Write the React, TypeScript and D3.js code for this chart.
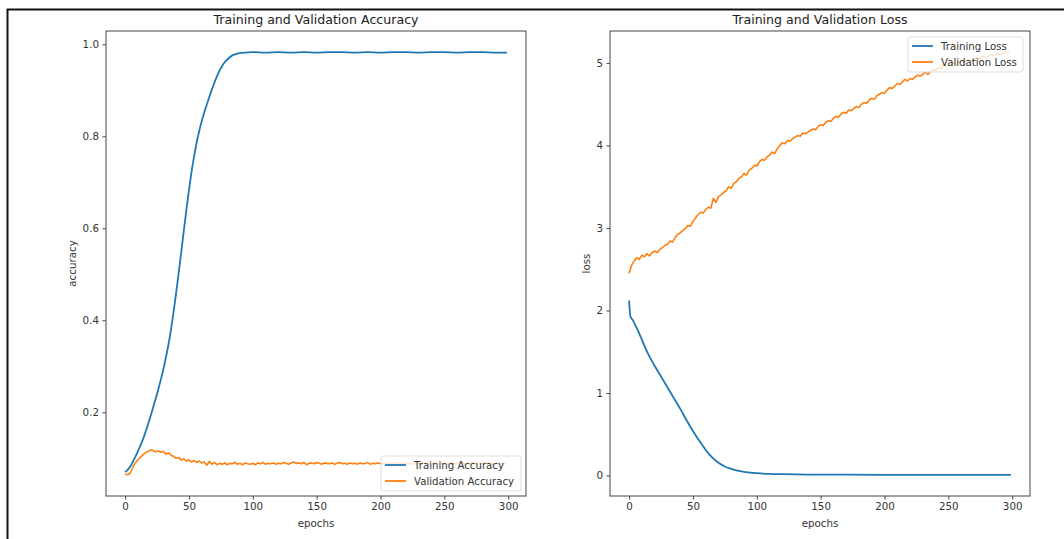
import React, { useEffect, useRef } from "react";
import * as d3 from "d3";

// ---- data ----
const xTicks = [0, 50, 100, 150, 200, 250, 300];
const accTicks = [0.2, 0.4, 0.6, 0.8, 1.0];
const lossTicks = [0, 1, 2, 3, 4, 5];

// validation series logged every 2 epochs (0, 2, ..., 298)
const valAccuracy = [
  0.066, 0.064, 0.068, 0.08, 0.09, 0.097, 0.102, 0.108, 0.112, 0.115,
  0.118, 0.117, 0.114, 0.116, 0.113, 0.115, 0.109, 0.112, 0.107, 0.104,
  0.1, 0.102, 0.096, 0.099, 0.094, 0.097, 0.092, 0.095, 0.091, 0.094,
  0.09, 0.092, 0.085, 0.093, 0.087, 0.091, 0.086, 0.089, 0.087, 0.09,
  0.086, 0.089, 0.088, 0.091, 0.087, 0.089, 0.086, 0.09, 0.088, 0.087,
  0.089, 0.086, 0.09, 0.088, 0.091, 0.087, 0.089, 0.088, 0.09, 0.087,
  0.089, 0.088, 0.091, 0.089, 0.087, 0.09, 0.092, 0.089, 0.09, 0.088,
  0.091, 0.086, 0.089, 0.09, 0.088, 0.091, 0.089, 0.087, 0.09, 0.089,
  0.088, 0.09, 0.087, 0.089, 0.091, 0.088, 0.089, 0.087, 0.09, 0.088,
  0.089, 0.087, 0.09, 0.088, 0.089, 0.091, 0.087, 0.089, 0.088, 0.09,
  0.088, 0.089, 0.087, 0.09, 0.088, 0.089, 0.091, 0.088, 0.089, 0.087,
  0.09, 0.088, 0.089, 0.087, 0.09, 0.089, 0.088, 0.091, 0.088, 0.089,
  0.087, 0.09, 0.088, 0.089, 0.09, 0.088, 0.087, 0.089, 0.09, 0.088,
  0.089, 0.088, 0.09, 0.087, 0.089, 0.088, 0.09, 0.089, 0.087, 0.089,
  0.088, 0.09, 0.089, 0.087, 0.089, 0.088, 0.09, 0.088, 0.089, 0.088,
];

const valLoss = [
  2.45, 2.55, 2.6, 2.64, 2.62, 2.67, 2.65, 2.69, 2.66, 2.7,
  2.72, 2.7, 2.74, 2.76, 2.79, 2.8, 2.84, 2.83, 2.88, 2.92,
  2.94, 2.97, 2.99, 3.03, 3.02, 3.08, 3.12, 3.16, 3.19, 3.18,
  3.22, 3.25, 3.24, 3.36, 3.31, 3.38, 3.4, 3.43, 3.45, 3.5,
  3.48, 3.54, 3.56, 3.6, 3.62, 3.66, 3.64, 3.7, 3.72, 3.76,
  3.75, 3.8, 3.83, 3.82, 3.86, 3.88, 3.92, 3.9, 3.96, 4.0,
  4.03, 4.02, 4.06, 4.05, 4.08, 4.1, 4.12, 4.11, 4.15, 4.14,
  4.16, 4.18, 4.2, 4.19, 4.23, 4.25, 4.24, 4.28, 4.3, 4.29,
  4.33, 4.35, 4.34, 4.38, 4.4, 4.39, 4.43, 4.42, 4.45, 4.47,
  4.46, 4.5, 4.52, 4.51, 4.55, 4.57, 4.56, 4.6, 4.62, 4.64,
  4.63, 4.67, 4.7, 4.69, 4.72, 4.75, 4.74, 4.77, 4.8, 4.78,
  4.81, 4.8, 4.83, 4.85, 4.84, 4.86, 4.89, 4.86, 4.9, 4.92,
  4.91, 4.94, 4.93, 4.96, 4.97, 4.95, 4.99, 5.0, 4.98, 5.01,
  5.02, 5.0, 5.03, 5.04, 5.02, 5.05, 5.06, 5.04, 5.07, 5.08,
  5.06, 5.09, 5.1, 5.08, 5.11, 5.1, 5.12, 5.11, 5.13, 5.12,
];

// training series: [epoch, value]
const trainAccuracy: [number, number][] = [
  [0, 0.07], [2, 0.075], [4, 0.082], [6, 0.092], [8, 0.103], [10, 0.115],
  [12, 0.128], [14, 0.141], [16, 0.157], [18, 0.174], [20, 0.192], [22, 0.211],
  [24, 0.23], [26, 0.25], [28, 0.271], [30, 0.294], [32, 0.32], [34, 0.348],
  [36, 0.381], [38, 0.419], [40, 0.46], [42, 0.504], [44, 0.549], [46, 0.595],
  [48, 0.64], [50, 0.683], [52, 0.722], [54, 0.756], [56, 0.786], [58, 0.811],
  [60, 0.833], [62, 0.852], [64, 0.869], [66, 0.886], [68, 0.902], [70, 0.917],
  [72, 0.931], [74, 0.943], [76, 0.953], [78, 0.961], [80, 0.967], [82, 0.972],
  [84, 0.976], [86, 0.978], [88, 0.98], [90, 0.981], [95, 0.982], [100, 0.983],
  [110, 0.982], [120, 0.983], [130, 0.982], [140, 0.983], [150, 0.982],
  [160, 0.983], [170, 0.983], [180, 0.982], [190, 0.983], [200, 0.982],
  [210, 0.983], [220, 0.983], [230, 0.982], [240, 0.983], [250, 0.983],
  [260, 0.982], [270, 0.983], [280, 0.983], [290, 0.982], [299, 0.982],
];

const trainLoss: [number, number][] = [
  [0, 2.12], [1, 1.93], [3, 1.88], [5, 1.82], [8, 1.72], [11, 1.61], [15, 1.47],
  [20, 1.33], [25, 1.2], [30, 1.07], [35, 0.94], [40, 0.81], [45, 0.67],
  [50, 0.54], [55, 0.42], [60, 0.31], [65, 0.22], [70, 0.155], [75, 0.11],
  [80, 0.08], [85, 0.058], [90, 0.044], [95, 0.034], [100, 0.028], [110, 0.02],
  [120, 0.016], [140, 0.012], [170, 0.01], [200, 0.009], [250, 0.008], [299, 0.008],
];

const BLUE = "#1f77b4";
const ORANGE = "#ff7f0e";
const FONT = "DejaVu Sans, sans-serif";

const valEpochs = d3.range(0, 300, 2);

function drawPanel(svg: any, opts: any) {
  const { x0, x1, y0, y1, title, ylabel, ticks, tickFmt, train, val, names, legendPos } = opts;
  const g = svg.append("g");

  // matplotlib-like 5% margins
  const x = d3.scaleLinear().domain([-0.05 * 299, 299 * 1.05]).range([x0, x1]);
  const allY = train.map((d: any) => d[1]).concat(val);
  const lo = d3.min(allY) as number, hi = d3.max(allY) as number;
  const pad = (hi - lo) * 0.05;
  const y = d3.scaleLinear().domain([lo - pad, hi + pad]).range([y1, y0]);

  g.append("path")
    .datum(train)
    .attr("d", d3.line<[number, number]>().x(d => x(d[0])).y(d => y(d[1])).curve(d3.curveMonotoneX))
    .attr("fill", "none").attr("stroke", BLUE).attr("stroke-width", 1.8);

  g.append("path")
    .datum(val.map((v: number, i: number) => [valEpochs[i], v]))
    .attr("d", d3.line<[number, number]>().x(d => x(d[0])).y(d => y(d[1])))
    .attr("fill", "none").attr("stroke", ORANGE).attr("stroke-width", 1.6)
    .attr("stroke-linejoin", "round");

  // axes
  const xa = g.append("g").attr("transform", `translate(0,${y1})`)
    .call(d3.axisBottom(x).tickValues(xTicks).tickSize(3.5).tickPadding(3.5).tickFormat(d3.format("d")));
  const ya = g.append("g").attr("transform", `translate(${x0},0)`)
    .call(d3.axisLeft(y).tickValues(ticks).tickSize(3.5).tickPadding(3.5).tickFormat(d3.format(tickFmt)));
  [xa, ya].forEach(a => {
    a.select(".domain").remove();
    a.selectAll("line").attr("stroke", "#444");
    a.selectAll("text").attr("font-family", FONT).attr("font-size", 10.3).attr("fill", "#333");
  });

  g.append("rect").attr("x", x0).attr("y", y0).attr("width", x1 - x0).attr("height", y1 - y0)
    .attr("fill", "none").attr("stroke", "#444").attr("stroke-width", 1);

  g.append("text").attr("x", (x0 + x1) / 2).attr("y", y0 - 7).attr("text-anchor", "middle")
    .attr("font-family", FONT).attr("font-size", 12.6).attr("fill", "#222").text(title);
  g.append("text").attr("x", (x0 + x1) / 2).attr("y", 527).attr("text-anchor", "middle")
    .attr("font-family", FONT).attr("font-size", 10.3).attr("fill", "#333").text("epochs");
  g.append("text").attr("transform", `translate(${opts.ylabelX},${(y0 + y1) / 2}) rotate(-90)`)
    .attr("text-anchor", "middle").attr("font-family", FONT).attr("font-size", 10.3).attr("fill", "#333")
    .text(ylabel);

  // legend
  const [lx, ly, lw] = legendPos;
  const lg = g.append("g").attr("transform", `translate(${lx},${ly})`);
  lg.append("rect").attr("width", lw).attr("height", 35).attr("rx", 2)
    .attr("fill", "white").attr("fill-opacity", 0.8).attr("stroke", "#ddd");
  [BLUE, ORANGE].forEach((c, i) => {
    const yy = 9 + i * 16;
    lg.append("line").attr("x1", 4).attr("x2", 25).attr("y1", yy).attr("y2", yy)
      .attr("stroke", c).attr("stroke-width", 1.8);
    lg.append("text").attr("x", 33).attr("y", yy + 3.5).attr("font-family", FONT)
      .attr("font-size", 10.2).attr("fill", "#333").text(names[i]);
  });
}

export default function App() {
  const ref = useRef<SVGSVGElement>(null);

  useEffect(() => {
    const svg = d3.select(ref.current);
    svg.selectAll("*").remove();

    svg.append("rect").attr("width", 1064).attr("height", 539).attr("fill", "white");
    // outer frame of the screenshot
    svg.append("path").attr("d", "M7.5,539 V9.5 H1064").attr("fill", "none")
      .attr("stroke", "#111").attr("stroke-width", 2);

    drawPanel(svg, {
      x0: 106, x1: 526, y0: 31, y1: 496,
      title: "Training and Validation Accuracy", ylabel: "accuracy", ylabelX: 76,
      ticks: accTicks, tickFmt: ".1f",
      train: trainAccuracy, val: valAccuracy,
      names: ["Training Accuracy", "Validation Accuracy"],
      legendPos: [381, 456, 140],
    });
    drawPanel(svg, {
      x0: 610, x1: 1030, y0: 31, y1: 496,
      title: "Training and Validation Loss", ylabel: "loss", ylabelX: 590,
      ticks: lossTicks, tickFmt: "d",
      train: trainLoss, val: valLoss,
      names: ["Training Loss", "Validation Loss"],
      legendPos: [908, 37, 115],
    });
  }, []);

  return (
    <svg ref={ref} width={1064} height={539}
      style={{ position: "absolute", left: 0, top: 0, display: "block" }} />
  );
}
